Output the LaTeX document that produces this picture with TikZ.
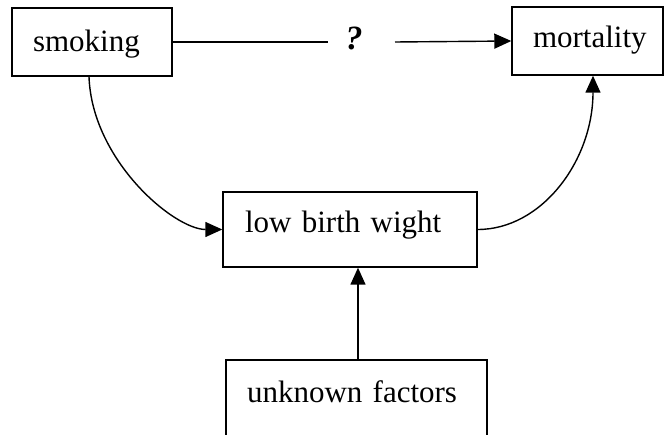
\documentclass[tikz,border=0pt]{standalone}
\usepackage{fontspec}
\setmainfont{Liberation Serif}
\usetikzlibrary{arrows.meta}
\begin{document}
\begin{tikzpicture}[x=1pt,y=-1pt,
  every node/.style={font=\fontsize{31}{36}\selectfont},
  box/.style={draw,line width=1.4pt,align=left,inner ysep=0pt,inner xsep=21pt},
  conn/.style={line width=1.4pt},
  arr/.style={conn,-{Triangle[length=17pt,width=15pt]}}]
\useasboundingbox (0,0) rectangle (665,435);
\node[box,text width=118pt,minimum height=68pt,text height=22pt,text depth=2pt] (smoking) at (92,42) {smoking};
\node[box,text width=109pt,minimum height=68pt,text height=20pt,text depth=6pt] (mortality) at (587.5,41) {mortality};
\node[box,inner xsep=22pt,text width=210pt,minimum height=75pt,text height=14pt,text depth=7pt] (lbw) at (350,229.5) {low birth wight};
\node[box,text width=219pt,minimum height=80pt,text height=12pt,text depth=6pt] (unknown) at (356.5,400) {unknown factors};
\node[font=\fontsize{34}{40}\selectfont\bfseries\itshape] (q) at (354,38) {?};
\coordinate (qa) at (328,42);
\coordinate (qb) at (395,42);
\draw[conn] (smoking.east) -- (qa);
\draw[arr] (qb) -- (mortality.west);
\draw[arr] ([xshift=-3pt]smoking.south) .. controls +(3,84) and +(-48,0) .. (lbw.west);
\draw[arr] (lbw.east) .. controls +(64,0) and +(0,85) .. ([xshift=5.5pt]mortality.south);
\draw[arr] ([xshift=1.5pt]unknown.north) -- ([xshift=1.5pt]unknown.north |- lbw.south);
\end{tikzpicture}
\end{document}
